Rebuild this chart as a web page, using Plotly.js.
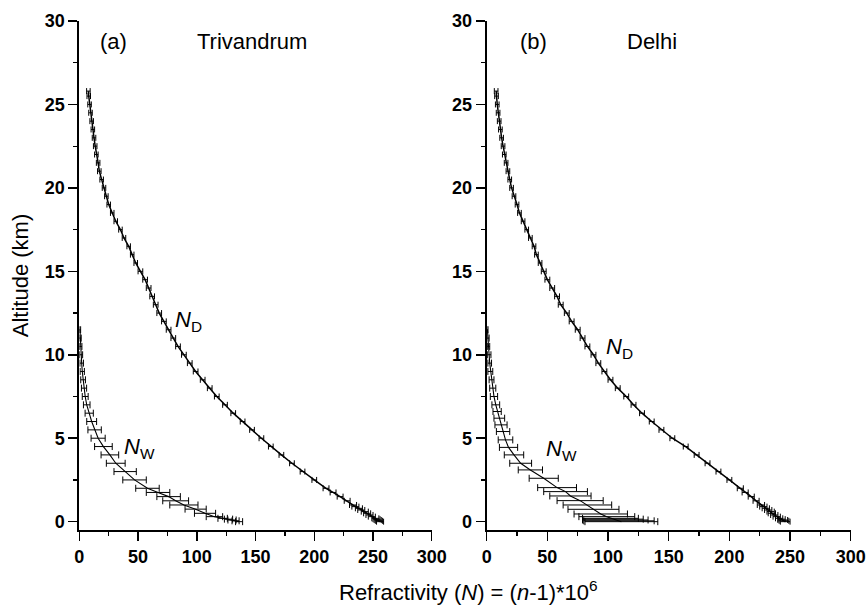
<!DOCTYPE html>
<html>
<head>
<meta charset="utf-8">
<script src="https://cdn.plot.ly/plotly-3.0.1.min.js"></script>
<style>html,body{margin:0;padding:0;background:#fff;}#chart{width:868px;height:610px;}</style>
</head>
<body>
<div id="chart"></div>
<script>
// ---------- Altitude grid (km) for dry refractivity profiles ----------
const altD = [0,0.05,0.1,0.15,0.2,0.3,0.4,0.5,0.6,0.7,0.8,0.9,1.0,1.25,1.5,1.75,2.0,
  2.5,3.0,3.5,4.0,4.5,5.0,5.5,6.0,6.5,7.0,7.5,8.0,8.5,9.0,9.5,10.0,10.5,11.0,11.5,12.0,
  12.5,13.0,13.5,14.0,14.5,15.0,15.5,16.0,16.5,17.0,17.5,18.0,18.5,19.0,19.5,20.0,20.5,
  21.0,21.5,22.0,22.5,23.0,23.5,24.0,24.5,25.0,25.5,25.8];

// (a) Trivandrum, dry refractivity N_D
const trivND = [256,255,254,253,252,249,247,245,243,240,238,235,233,228,222,216,210,
  200,190,181,172,163,155,147,139,131,124,117,111,105,99,94,89,84,80,76,72,
  68,65,62,59,56,52,48,45,42,38,35,31,28,25,23,21,19,
  17,16,14.5,13.5,12.5,11.5,10.5,9.5,8.7,8.0,7.7];
const trivNDerr = [3,3,3,3,3,3,3,3,3,3,3,3,3,2.5,2.5,2.5,2.5,
  2,2,2,2,2,2,2,2,2,2,2,2,2,2,2,2,2,2,2,2,
  2,2,2,2,2,2,1.5,1.5,1.5,1.5,1.5,1.5,1.5,1.5,1.5,1.5,1.5,
  1.5,1.5,1.5,1.5,1.5,1.5,1.5,1.5,1.5,1.5,1.5];

// (b) Delhi, dry refractivity N_D
const delhiND = [246,245,244,243,241,239,237,235,234,232,230,228,226,222,218,213,209,
  200,191,182,173,164,153,144,136,128,121,115,108,102,97,92,88,83,79,75,70,
  66,61,58,54,50,47,44,41,39,36,33,30,27,25,22.5,20.5,19,
  17.5,16,14.5,13.5,12.3,11.3,10.3,9.4,8.7,8.1,7.8];
const delhiNDerr = [4,4,4,3,3,3,3,3,3,3,3,3,3,2.5,2.5,2.5,2.5,
  2,2,2,2,2,2,2,2,2,2,2,2,2,2,2,2,2,2,2,2,
  2,2,2,2,2,2,1.5,1.5,1.5,1.5,1.5,1.5,1.5,1.5,1.5,1.5,1.5,
  1.5,1.5,1.5,1.5,1.5,1.5,1.5,1.5,1.5,1.5,1.5];

// (a) Trivandrum, wet refractivity N_W
const trivAltW = [0,0.05,0.1,0.15,0.2,0.3,0.5,0.75,1.0,1.25,1.5,1.75,2.0,2.5,3.0,3.5,4.0,4.5,
  5.0,5.5,6.0,6.5,7.0,7.5,8.0,8.5,9.0,9.5,10.0,10.5,11.0,11.5];
const trivNW = [136,133,130,127,122,115,107,99,89,82,76,67,58,47,39,31,26,20.5,
  16,13,10.5,8.4,6.3,5,4,3.2,2.5,2,1.5,1.1,0.7,0.5];
const trivNWerr = [3,3,3.5,3.5,4,7,9,9,12,11,10,10,10,10,9.5,8,7.5,7.5,
  6,5.7,4.2,3.5,2.8,2.5,2.2,2,1.8,1.5,1.3,1.1,0.9,0.6];

// (b) Delhi, wet refractivity N_W
const delhiAltW = [0,0.05,0.1,0.15,0.2,0.3,0.46,0.74,1.0,1.26,1.54,1.8,2.04,2.6,3.1,3.5,4.0,4.45,
  4.9,5.4,5.8,6.2,6.6,7.0,7.5,8.0,8.5,9.0,9.5,10.0,10.5,11.0,11.5];
const delhiNW = [111,109,106,104,102,99,94,88,83,77,69,65,58,47,36,28,22.5,18,
  15.5,13.5,11.8,10.4,8.6,7.5,6,5,4,3,2.5,2,1.5,1,0.6];
const delhiNWerr = [30,29,27,25,23,23,22,21,20,19,17,18,16,12,10,9,8,7.5,
  6,5.5,5,4.4,3.4,3.2,3,2.5,2,2,1.5,1.5,1,1,0.5];

// ---------- Traces ----------
function prof(x, y, err, xa, ya, lw, capw) {
  return {
    type: 'scatter', mode: 'lines', x: x, y: y, xaxis: xa, yaxis: ya,
    line: {color: '#000', width: lw},
    error_x: {type: 'data', array: err, visible: true, color: '#000', thickness: 1, width: capw},
    showlegend: false, hoverinfo: 'x+y'
  };
}
const data = [
  prof(trivND, altD, trivNDerr, 'x', 'y', 1.5, 3),
  prof(trivNW, trivAltW, trivNWerr, 'x', 'y', 1.1, 3.5),
  prof(delhiND, altD, delhiNDerr, 'x2', 'y2', 1.5, 3),
  prof(delhiNW, delhiAltW, delhiNWerr, 'x2', 'y2', 1.1, 3.5)
];

// ---------- Layout ----------
const tickFont = {family: 'Liberation Sans, Arial, sans-serif', size: 18, color: '#000', weight: 700};
const txtFont = {family: 'Liberation Sans, Arial, sans-serif', size: 22, color: '#000'};
function xax(dom, anchor) {
  return {
    domain: dom, anchor: anchor, range: [0, 300], dtick: 50, tick0: 0,
    showline: true, linecolor: '#000', linewidth: 2, mirror: false,
    ticks: 'outside', ticklen: 9, tickwidth: 1.5, tickcolor: '#000',
    tickprefix: '<b>', ticksuffix: '</b>',
    minor: {dtick: 25, ticks: 'outside', ticklen: 4, tickwidth: 1.2, tickcolor: '#000', showgrid: false},
    showgrid: false, zeroline: false, tickfont: tickFont
  };
}
function yax(anchor, title) {
  const a = {
    domain: [0, 1], anchor: anchor, range: [-0.5, 30], dtick: 5, tick0: 0,
    showline: true, linecolor: '#000', linewidth: 2, mirror: false,
    ticks: 'outside', ticklen: 9, tickwidth: 1.5, tickcolor: '#000',
    tickprefix: '<b>', ticksuffix: '</b>',
    minor: {dtick: 2.5, ticks: 'outside', ticklen: 4, tickwidth: 1.2, tickcolor: '#000', showgrid: false},
    showgrid: false, zeroline: false, tickfont: tickFont
  };
  if (title) a.title = {text: title, font: txtFont, standoff: 10};
  return a;
}

const layout = {
  width: 868, height: 610,
  margin: {l: 0, r: 0, t: 21, b: 80, pad: 0},
  paper_bgcolor: '#fff', plot_bgcolor: '#fff',
  xaxis: xax([0.0914, 0.4974], 'y'),
  yaxis: yax('x', 'Altitude (km)'),
  xaxis2: xax([0.5607, 0.9801], 'y2'),
  yaxis2: yax('x2', null),
  showlegend: false,
  annotations: [
    {xref: 'x', yref: 'y', x: 29.5, y: 28.8, text: '(a)', showarrow: false, font: txtFont},
    {xref: 'x', yref: 'y', x: 146.7, y: 28.8, text: 'Trivandrum', showarrow: false, font: txtFont},
    {xref: 'x2', yref: 'y2', x: 38.2, y: 28.8, text: '(b)', showarrow: false, font: txtFont},
    {xref: 'x2', yref: 'y2', x: 136.4, y: 28.8, text: 'Delhi', showarrow: false, font: txtFont},
    {xref: 'x', yref: 'y', x: 80, y: 12.0, xanchor: 'left', text: '<i>N</i><sub>D</sub>', showarrow: false, font: txtFont},
    {xref: 'x2', yref: 'y2', x: 96.5, y: 10.4, xanchor: 'left', text: '<i>N</i><sub>D</sub>', showarrow: false, font: txtFont},
    {xref: 'x', yref: 'y', x: 36.5, y: 4.4, xanchor: 'left', text: '<i>N</i><sub>W</sub>', showarrow: false, font: txtFont},
    {xref: 'x2', yref: 'y2', x: 47.5, y: 4.3, xanchor: 'left', text: '<i>N</i><sub>W</sub>', showarrow: false, font: txtFont},
    {xref: 'paper', yref: 'paper', x: 0.540, y: -0.152, xanchor: 'center', yanchor: 'bottom',
     text: 'Refractivity (<i>N</i>) = (<i>n</i>-1)*10<sup>6</sup>', showarrow: false, font: txtFont}
  ]
};

Plotly.newPlot('chart', data, layout, {displayModeBar: false, staticPlot: true});
</script>
</body>
</html>
